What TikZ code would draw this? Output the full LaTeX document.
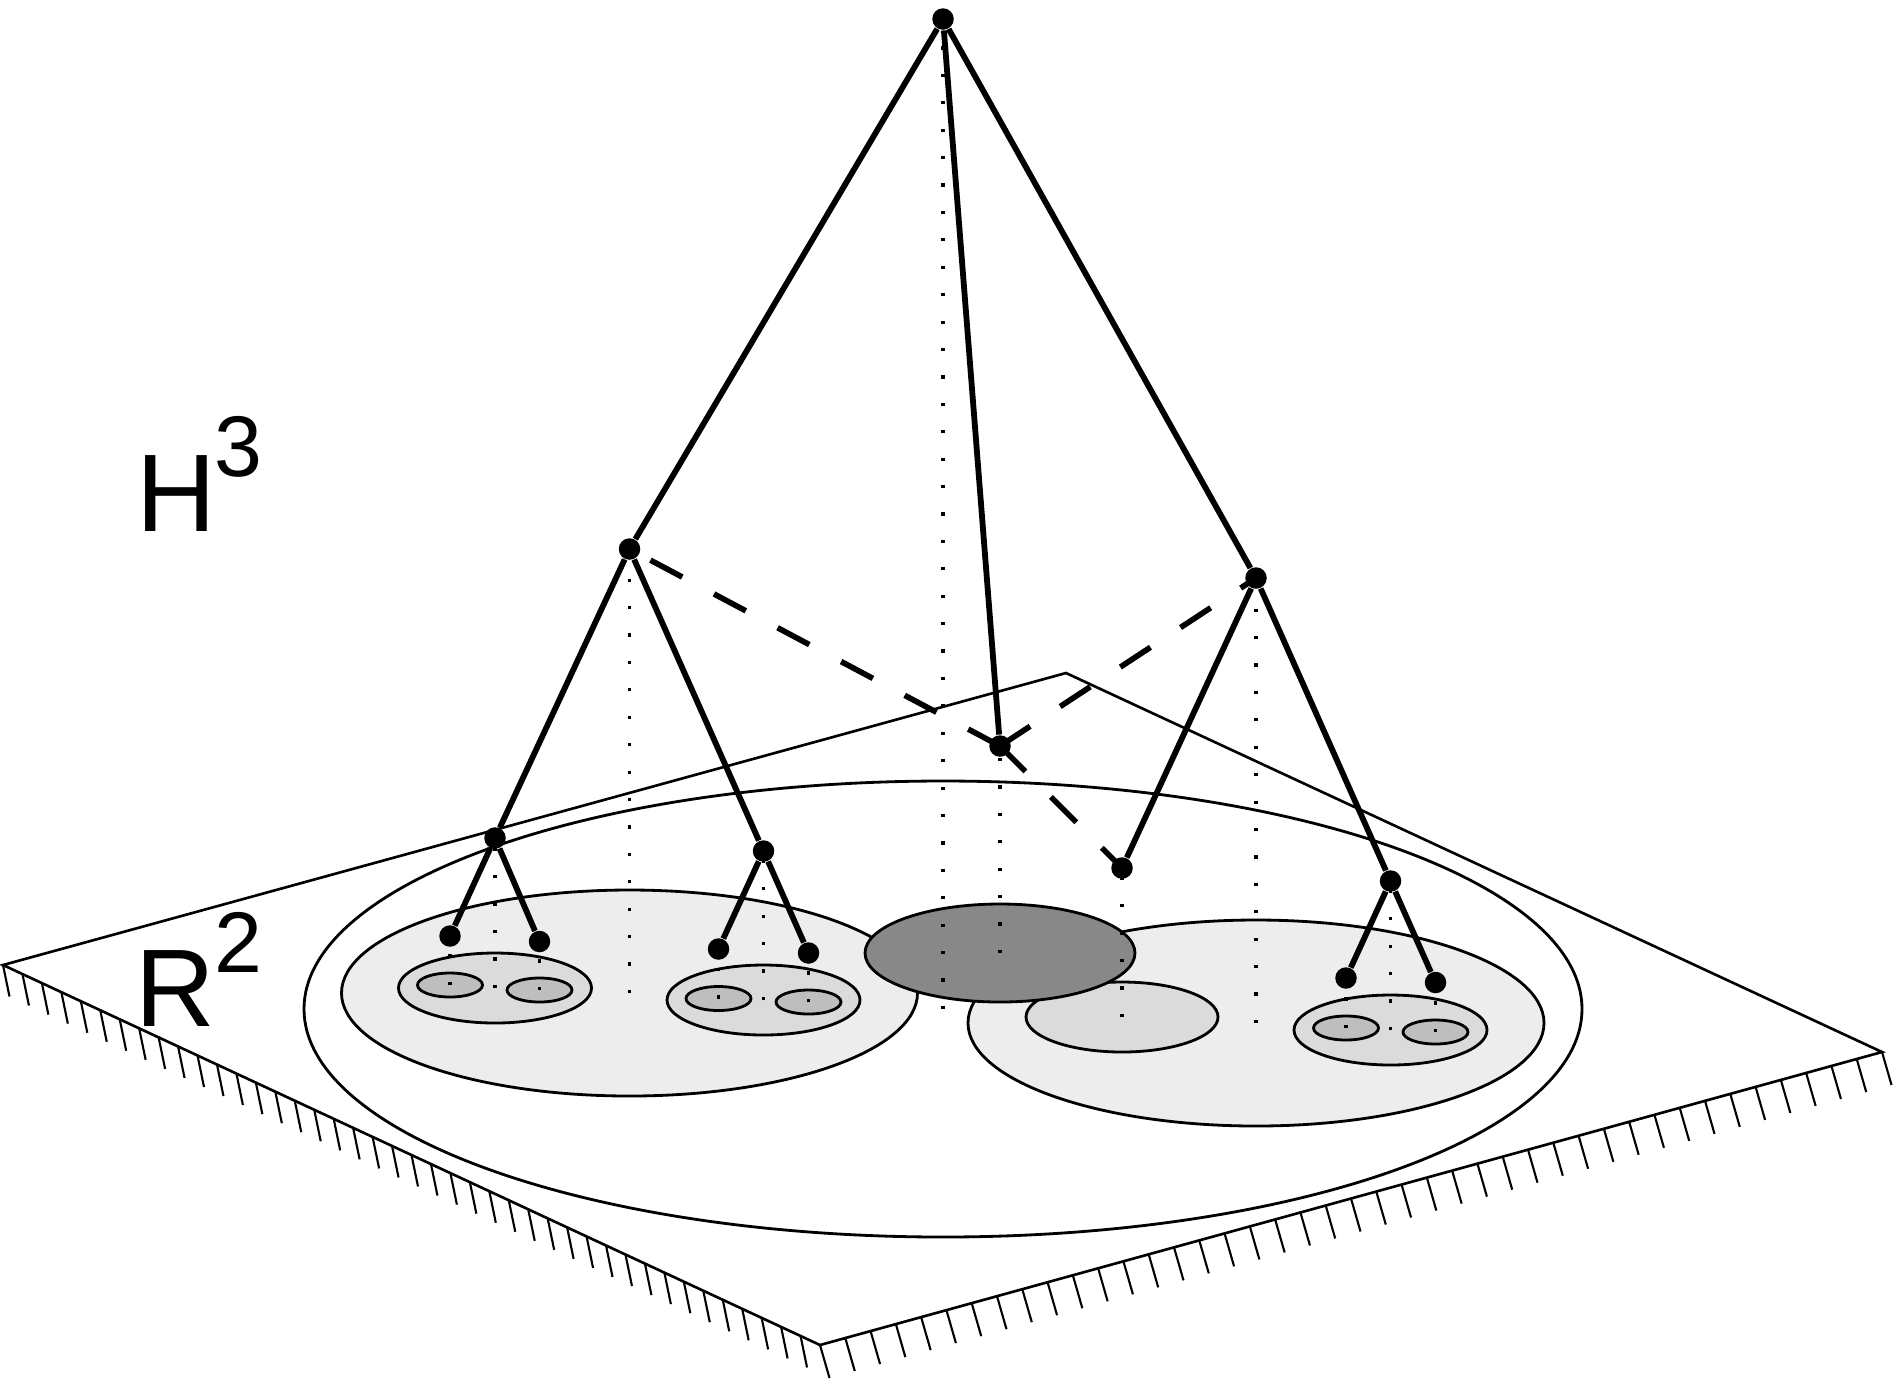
\documentclass[tikz,border=0pt]{standalone}
\usepackage{fontspec}
\setmainfont{Liberation Sans}
\usetikzlibrary{calc}
\definecolor{discA}{gray}{0.93}
\definecolor{discB}{gray}{0.86}
\definecolor{discC}{gray}{0.745}
\definecolor{discD}{gray}{0.535}
\begin{document}
\begin{tikzpicture}[x=0.1mm,y=-0.1mm,
  rim/.style={line width=0.75pt},
  hatch/.style={line width=0.6pt},
  disc/.style={line width=0.8pt},
  branch/.style={line width=1.65pt},
  link/.style={line width=1.6pt, dash pattern=on 10.24pt off 10.24pt},
  drop/.style={line width=0.9pt, dash pattern=on 0.9pt off 6.9pt},
  dot/.style={circle, fill=black, inner sep=0pt, minimum size=2.15mm},
  lbl/.style={inner sep=0pt, anchor=base west}]
\useasboundingbox (0,0) rectangle (1901,1378);

% the plane R^2, hatched along its two front edges
\coordinate (lv) at (3,965);
\coordinate (tv) at (1066,673);
\coordinate (rv) at (1882,1052);
\coordinate (bv) at (820,1345);
\draw[rim, fill=white] (lv) -- (tv) -- (rv) -- (bv) -- cycle;
\foreach \i in {0,...,41}
  \draw[hatch] ($(lv)!\i/42!(bv)$) -- ++(6.5,31.5);
\foreach \i in {0,...,42}
  \draw[hatch] ($(bv)!\i/42!(rv)$) -- ++(9.5,33);

% nested discs in the plane
\draw[disc, fill=white] (943,1009) ellipse [x radius=639, y radius=228];
\draw[disc, fill=discA] (629.5,993) ellipse [x radius=288, y radius=103];
\draw[disc, fill=discA] (1256,1023) ellipse [x radius=288, y radius=103];
\draw[disc, fill=discB] (1122,1017) ellipse [x radius=96, y radius=35];
\draw[disc, fill=discD] (1000,953) ellipse [x radius=135, y radius=49];
\foreach \cx/\cy in {495/988, 763.5/1000, 1390.5/1030}
  \draw[disc, fill=discB] (\cx,\cy) ellipse [x radius=96.5, y radius=35];
\foreach \cx/\cy in {450/985, 539.5/990, 718.5/998.5, 808.5/1002, 1346/1028, 1435.5/1032}
  \draw[disc, fill=discC] (\cx,\cy) ellipse [x radius=32.5, y radius=12];

% centres of the discs (feet of the vertical projections)
\coordinate (p-top) at (943,1009);
\coordinate (p-lm) at (629.5,993);
\coordinate (p-rm) at (1256,1023);
\coordinate (p-cn) at (1000,953);
\coordinate (p-mn) at (1122,1017);
\coordinate (p-ll) at (495,988);
\coordinate (p-lr) at (763.5,1000);
\coordinate (p-rr) at (1390.5,1030);
\coordinate (p-a1) at (450,985);
\coordinate (p-a2) at (539.5,990);
\coordinate (p-b1) at (718.5,998.5);
\coordinate (p-b2) at (808.5,1002);
\coordinate (p-c1) at (1346,1028);
\coordinate (p-c2) at (1435.5,1032);

% tree vertices in H^3
\node[dot] (top) at (943,19) {};
\node[dot] (lm) at (629.5,549) {};
\node[dot] (rm) at (1256,578) {};
\node[dot] (cn) at (1000,746) {};
\node[dot] (mn) at (1122,868) {};
\node[dot] (ll) at (495,838) {};
\node[dot] (lr) at (763.5,851) {};
\node[dot] (rr) at (1390.5,881) {};
\node[dot] (a1) at (450,936) {};
\node[dot] (a2) at (539.5,941.5) {};
\node[dot] (b1) at (718.5,949) {};
\node[dot] (b2) at (808.5,953) {};
\node[dot] (c1) at (1346,978) {};
\node[dot] (c2) at (1435.5,982.5) {};

% vertical projections
\foreach \v in {top,lm,rm,cn,mn,ll,lr,rr,a1,a2,b1,b2,c1,c2}
  \draw[drop] (p-\v) -- (\v.center);

% tree edges
\draw[branch] (top) -- (lm);
\draw[branch] (top) -- (rm);
\draw[branch] (top) -- (cn);
\draw[branch] (lm) -- (ll);
\draw[branch] (lm) -- (lr);
\draw[branch] (rm) -- (mn);
\draw[branch] (rm) -- (rr);
\draw[branch] (ll) -- (a1);
\draw[branch] (ll) -- (a2);
\draw[branch] (lr) -- (b1);
\draw[branch] (lr) -- (b2);
\draw[branch] (rr) -- (c1);
\draw[branch] (rr) -- (c2);

% dashed links through the central vertex
\draw[link] (cn.center) -- (lm.center);
\draw[link] (cn.center) -- (rm.center);
\draw[link] (cn.center) -- (mn.center);

% space labels
\node[lbl, font=\fontsize{31.4}{36}\selectfont] (hname) at (136,531) {H};
\node[lbl, font=\fontsize{24.5}{28}\selectfont] (hpow) at (214,476) {3};
\node[lbl, font=\fontsize{31.4}{36}\selectfont] (rname) at (134.5,1026) {R};
\node[lbl, font=\fontsize{24.5}{28}\selectfont] (rpow) at (213.5,972) {2};
\end{tikzpicture}
\end{document}
